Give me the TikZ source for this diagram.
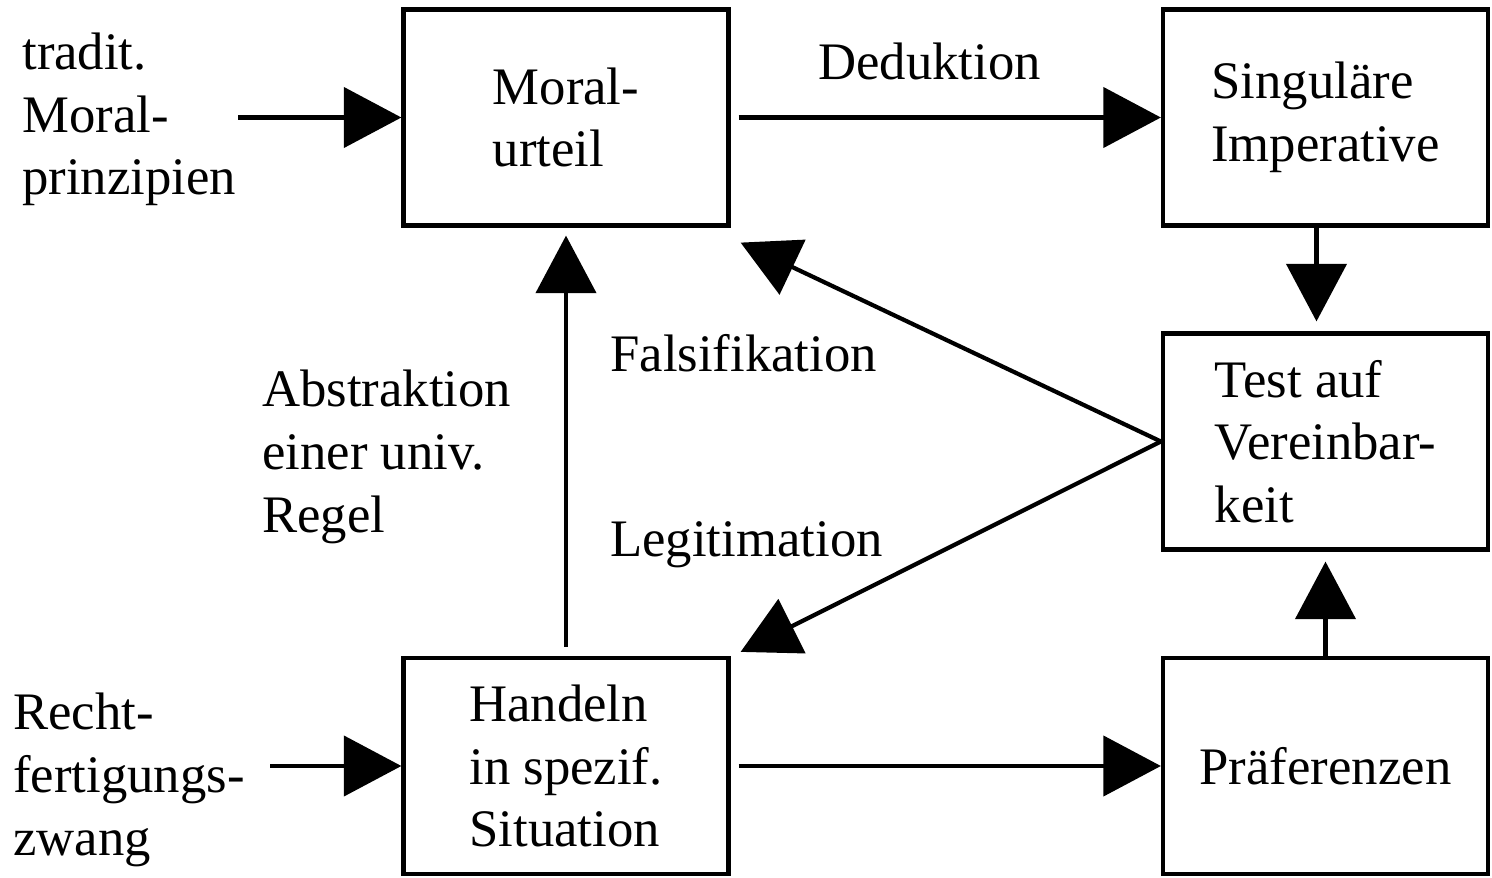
\documentclass[tikz,border=0pt]{standalone}
\usepackage{fontspec}
\setmainfont{Liberation Serif}
\usetikzlibrary{arrows.meta}
\usetikzlibrary{calc}

\begin{document}
\begin{tikzpicture}[font=\fontsize{30}{35.6}\selectfont,
  stage/.style={draw,line width=2.4pt,minimum width=6.5cm,minimum height=4.32cm,align=left},
  flow/.style={line width=2.4pt,-{Triangle[length=1.15cm,width=1.2cm]}},
  note/.style={anchor=base west,align=left,inner sep=0pt}]
  \useasboundingbox (0,0) rectangle (29.84,-17.56);

  %boxes
  \node[stage] (moral) at (11.32,-2.35) {Moral-\\urteil};
  \node[stage] (sing) at (26.51,-2.35) {Singuläre\\Imperative};
  \node[stage] (test) at (26.51,-8.83) {Test auf\\Vereinbar-\\keit};
  \node[stage] (handeln) at (11.32,-15.32) {Handeln\\in spezif.\\Situation};
  \node[stage] (pref) at (26.51,-15.32) {Präferenzen};

  %free ends
  \coordinate (tradit) at (4.76,-2.35);
  \coordinate (recht) at (5.4,-15.32);

  %arrows
  \draw[flow] (tradit) -- (moral.west);
  \draw[flow] ($(moral.east)+(0.16,0)$) -- (sing.west);
  \draw[flow] ($(sing.south)+(-0.18,0)$) -- ($(test.north)+(-0.18,0.2)$);
  \draw[flow] (pref.north) -- ($(test.south)+(0,-0.2)$);
  \draw[flow] ($(handeln.north)+(0,0.18)$) -- ($(moral.south)+(0,-0.16)$);
  \draw[flow] (test.west) -- ($(moral.south east)+(0.2,-0.3)$);
  \draw[flow] (test.west) -- ($(handeln.north east)+(0.2,0.08)$);
  \draw[flow] (recht) -- (handeln.west);
  \draw[flow] ($(handeln.east)+(0.16,0)$) -- (pref.west);

  %labels
  \node[note,at={(0.44,-3.9)}] (tlabel) {tradit.\\Moral-\\prinzipien};
  \node[note,at={(0.26,-17.1)}] (rlabel) {Recht-\\fertigungs-\\zwang};
  \node[note,at={(16.36,-1.6)}] (dlabel) {Deduktion};
  \node[note,at={(5.24,-10.64)}] (alabel) {Abstraktion\\einer univ.\\Regel};
  \node[note,at={(12.2,-7.44)}] (flabel) {Falsifikation};
  \node[note,at={(12.2,-11.14)}] (llabel) {Legitimation};
\end{tikzpicture}
\end{document}
